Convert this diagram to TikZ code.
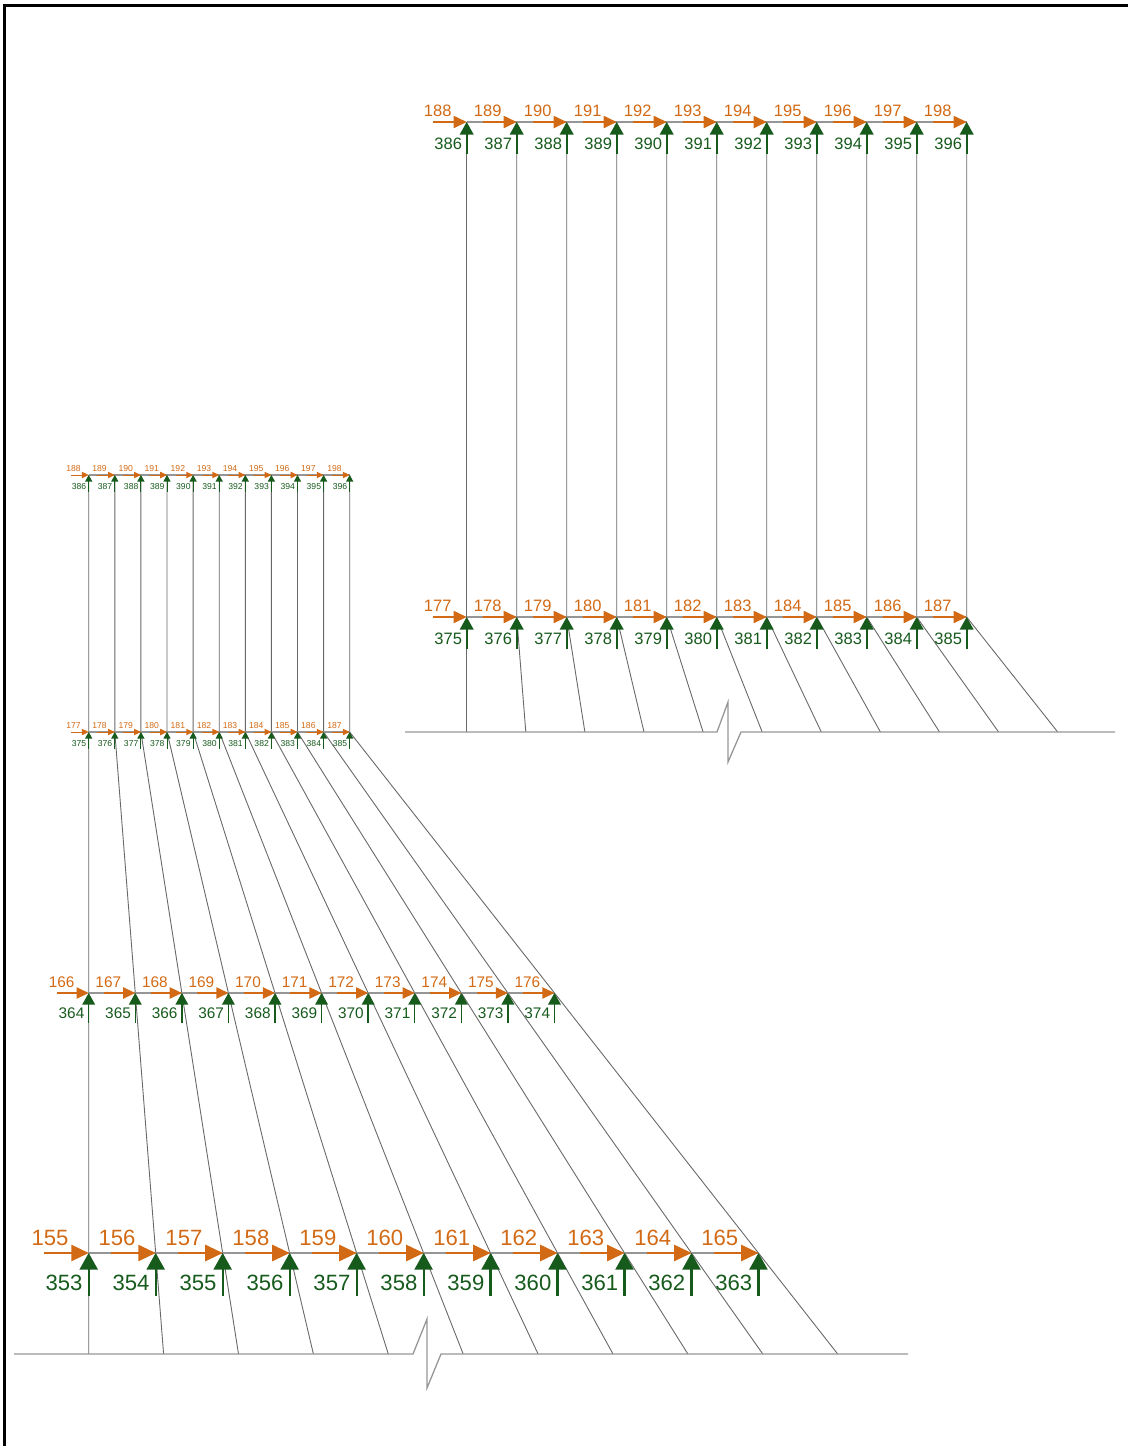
\documentclass[tikz,border=0pt]{standalone}
\usepackage{fontspec}
\setmainfont{Liberation Sans}
\usetikzlibrary{calc}
\definecolor{orc}{RGB}{210,105,20}
\definecolor{grc}{RGB}{22,90,28}
\definecolor{linkc}{RGB}{105,105,105}
\definecolor{rowc}{RGB}{150,150,150}
\tikzset{
  link/.style={draw=linkc, line width=0.9pt},
  rowline/.style={draw=rowc, line width=1.2pt},
  groundline/.style={draw=rowc, line width=1.3pt},
  orline/.style={draw=orc},
  grline/.style={draw=grc},
  orfill/.style={fill=orc},
  grfill/.style={fill=grc},
  orlabel/.style={text=orc, anchor=east, inner sep=0pt},
  grlabel/.style={text=grc, anchor=east, inner sep=0pt},
  frameline/.style={draw=black, line width=2.5pt},
}
% #1 coordinate, #2 scale, #3 orange label, #4 green label
\newcommand\nodeglyph[4]{%
  \begin{scope}[shift={(#1)}, scale=#2]
    \pgfmathsetmacro\fsz{16.5*#2}%
    \pgfmathsetmacro\lw{1.6*#2}%
    \draw[orline, line width=\lw pt] (-33.5,0) -- (-12,0);
    \fill[orfill] (0,0) -- (-13,-6.25) -- (-13,6.25) -- cycle;
    \draw[grline, line width=\lw pt] (0,11) -- (0,32);
    \fill[grfill] (0,0) -- (-7,12.5) -- (7,12.5) -- cycle;
    \node[orlabel, font=\fontsize{\fsz pt}{\fsz pt}\selectfont] (#1-o) at (-15,-11.5) {#3};
    \node[grlabel, font=\fontsize{\fsz pt}{\fsz pt}\selectfont] (#1-g) at (-4.5,22) {#4};
  \end{scope}%
}
\begin{document}
\begin{tikzpicture}[x=1pt,y=-1pt]
\useasboundingbox (0,0) rectangle (1128,1446);
% frame
\coordinate (F-a) at (4.7,1446);
\coordinate (F-b) at (4.7,5.3);
\coordinate (F-c) at (1128,5.3);
\draw[frameline] (F-a) -- (F-b) -- (F-c);
% coordinates
\foreach \i in {0,...,10}{
  \coordinate (RT-\i) at ({466.7+50*\i},122);
  \coordinate (RM-\i) at ({466.7+50*\i},617);
  \coordinate (RB-\i) at ({466.7+59.1*\i},732);
  \coordinate (LT-\i) at ({88.7+26.1*\i},475);
  \coordinate (LM-\i) at ({88.7+26.1*\i},732);
  \coordinate (LB-\i) at ({88.7+74.9*\i},1354);
  \coordinate (LA-\i) at ($(LM-\i)!0.4196!(LB-\i)$);
  \coordinate (LC-\i) at ($(LM-\i)!0.8376!(LB-\i)$);
}
% links
\foreach \i in {0,...,10}{
  \draw[link] (RT-\i) -- (RM-\i) -- (RB-\i);
  \draw[link] (LT-\i) -- (LM-\i) -- (LA-\i) -- (LC-\i) -- (LB-\i);
}
% row lines
\draw[rowline] (RT-0) -- (RT-10);
\draw[rowline] (RM-0) -- (RM-10);
\draw[rowline] (LT-0) -- (LT-10);
\draw[rowline] (LM-0) -- (LM-10);
\draw[rowline] (LA-0) -- (LA-10);
\draw[rowline] (LC-0) -- (LC-10);
% ground lines with break
\coordinate (RG-s) at (405,732);
\coordinate (RG-e) at (1115,732);
\draw[groundline] (RG-s) -- (717,732) -- (728,702) -- (728,762) -- (741,732) -- (RG-e);
\coordinate (LG-s) at (14,1354);
\coordinate (LG-e) at (908,1354);
\draw[groundline] (LG-s) -- (413,1354) -- (427,1319) -- (427,1388) -- (441,1354) -- (LG-e);
% glyphs
\foreach \i [evaluate=\i as \o using int(188+\i), evaluate=\i as \g using int(386+\i)] in {0,...,10}{
  \nodeglyph{RT-\i}{1}{\o}{\g}
  \nodeglyph{LT-\i}{0.522}{\o}{\g}
}
\foreach \i [evaluate=\i as \o using int(177+\i), evaluate=\i as \g using int(375+\i)] in {0,...,10}{
  \nodeglyph{RM-\i}{1}{\o}{\g}
  \nodeglyph{LM-\i}{0.522}{\o}{\g}
}
\foreach \i [evaluate=\i as \o using int(166+\i), evaluate=\i as \g using int(364+\i)] in {0,...,10}{
  \nodeglyph{LA-\i}{0.9316}{\o}{\g}
}
\foreach \i [evaluate=\i as \o using int(155+\i), evaluate=\i as \g using int(353+\i)] in {0,...,10}{
  \nodeglyph{LC-\i}{1.3396}{\o}{\g}
}
\end{tikzpicture}
\end{document}
